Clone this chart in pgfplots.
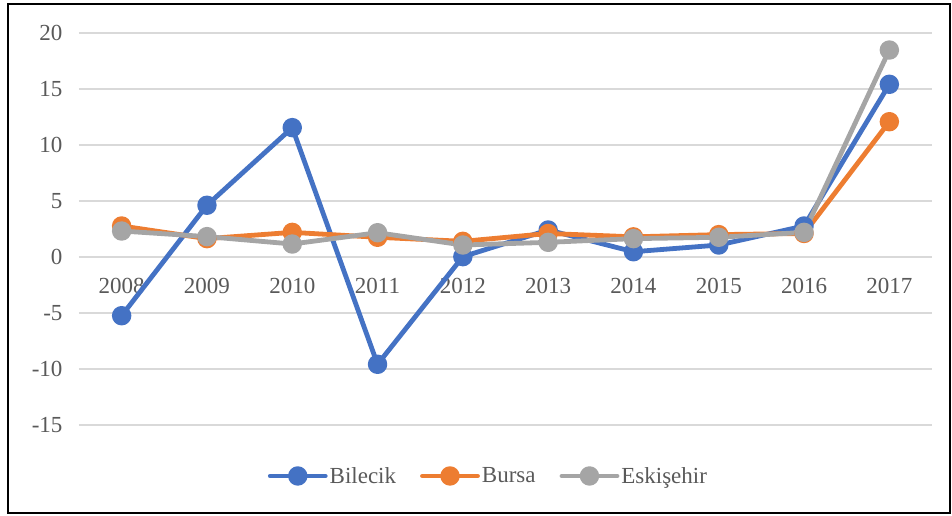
\documentclass[border=0pt]{standalone}
\usepackage{fontspec}
\setmainfont{Liberation Serif}
\usepackage{pgfplots}
\pgfplotsset{compat=1.18}
\definecolor{cblue}{HTML}{4472C4}
\definecolor{corange}{HTML}{ED7D31}
\definecolor{cgray}{HTML}{A5A5A5}
\definecolor{gridc}{HTML}{D9D9D9}
\definecolor{txt}{HTML}{595959}
\begin{document}
\begin{tikzpicture}
\useasboundingbox (-79pt,-90pt) rectangle (873pt,425pt);
\draw[line width=1.5pt] (-71pt,-88pt) rectangle (871pt,421pt);
\begin{axis}[at={(0pt,0pt)}, anchor=south west, scale only axis,
  width=853pt, height=392pt,
  xmin=-0.5, xmax=9.5, ymin=-15, ymax=20,
  xtick={0,1,2,3,4,5,6,7,8,9},
  xticklabels={2008,2009,2010,2011,2012,2013,2014,2015,2016,2017},
  ytick={-15,-10,-5,0,5,10,15,20},
  yticklabels={-15,-10,-5,0,5,10,15,20},
  axis line style={draw=none}, major tick length=0pt,
  ymajorgrids, grid style={gridc, line width=1.2pt},
  tick label style={font=\fontsize{23}{27}\selectfont, text=txt},
  xticklabel style={yshift=150pt},
  yticklabel style={xshift=-13pt},
  legend style={at={(0.48,-0.13)}, anchor=center, draw=none, fill=none,
    legend columns=3, font=\fontsize{23}{27}\selectfont, text=txt,
    /tikz/every even column/.append style={column sep=22pt}},
  legend image code/.code={\draw[mark repeat=2,mark phase=2,#1] plot coordinates {(0pt,0pt) (27.5pt,0pt) (55pt,0pt)};},
  every axis plot/.append style={line width=4.8pt, line join=round, line cap=round, mark=*, mark size=7.3pt, mark options={solid, line width=0.4pt}},
]
\addplot[cblue, mark options={fill=cblue, draw=cblue}] coordinates {
(0,-5.24) (1,4.62) (2,11.55) (3,-9.58) (4,0.03) (5,2.41) (6,0.47) (7,1.07) (8,2.77) (9,15.42)};
\addlegendentry{Bilecik}
\addplot[corange, mark options={fill=corange, draw=corange}] coordinates {
(0,2.77) (1,1.64) (2,2.2) (3,1.76) (4,1.4) (5,2.1) (6,1.8) (7,2.0) (8,2.1) (9,12.08)};
\addlegendentry{Bursa}
\addplot[cgray, mark options={fill=cgray, draw=cgray}] coordinates {
(0,2.32) (1,1.82) (2,1.16) (3,2.17) (4,1.07) (5,1.31) (6,1.64) (7,1.76) (8,2.2) (9,18.48)};
\addlegendentry{Eskişehir}
\end{axis}
\end{tikzpicture}
\end{document}
